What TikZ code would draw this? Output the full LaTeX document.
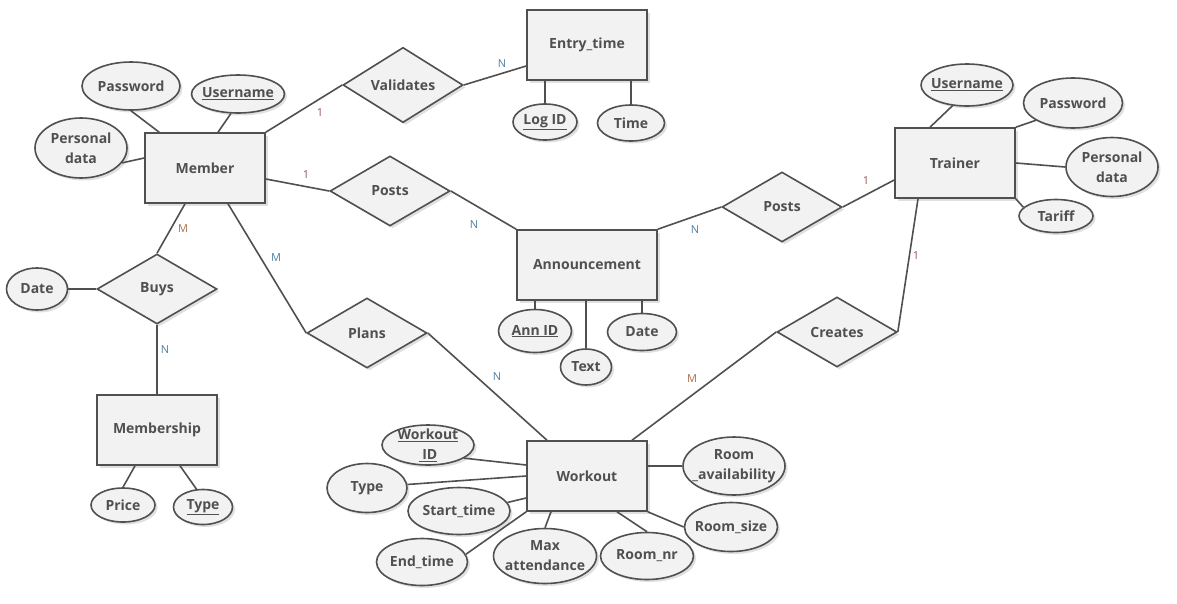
\documentclass[tikz,border=0pt]{standalone}
\usepackage{fontspec}
\setmainfont{Open Sans}
\usetikzlibrary{shapes.geometric,shadows}

\definecolor{ink}{HTML}{505050}
\definecolor{boxfill}{HTML}{F2F2F2}
\definecolor{one}{HTML}{9A5555}
\definecolor{many}{HTML}{4F7FA3}
\definecolor{mcol}{HTML}{A8704A}

\tikzset{
 base/.style={draw=ink,line width=1.6pt,fill=boxfill,inner sep=0pt,text=ink,align=center,
  font=\bfseries\fontsize{14}{20}\selectfont,
  drop shadow={shadow xshift=2.5pt,shadow yshift=-2.5pt,opacity=0.12,fill=black}},
 ent/.style={base,rectangle,minimum width=120pt,minimum height=70pt},
 rel/.style={base,diamond,minimum width=120pt,minimum height=70pt},
 att/.style={base,ellipse,inner xsep=-25pt,inner ysep=-12pt},
 link/.style={draw=ink,line width=1.6pt},
 card/.style={font=\fontsize{11}{12}\selectfont,inner sep=0pt}
}

\begin{document}
\begin{tikzpicture}[x=1pt,y=-1pt]
 \useasboundingbox[fill=white] (0,0) rectangle (1177,603);

 \node[ent] (member) at (205,168) {Member};
 \node[ent] (entry) at (587,45) {Entry\_time};
 \node[ent] (trainer) at (955,163) {Trainer};
 \node[ent,minimum width=140pt] (ann) at (587,265) {Announcement};
 \node[ent] (membership) at (157,430) {Membership};
 \node[ent] (workout) at (587,476) {Workout};

 \node[rel] (validates) at (403,85) {Validates};
 \node[rel] (postsm) at (390,191) {Posts};
 \node[rel] (postst) at (782,207) {Posts};
 \node[rel] (buys) at (157,289) {Buys};
 \node[rel] (plans) at (367,333) {Plans};
 \node[rel] (creates) at (837,332) {Creates};

 \node[att,minimum width=98pt,minimum height=48pt] (mpass) at (131,86) {Password};
 \node[att,minimum width=93pt,minimum height=38pt] (muser) at (238,94) {\underline{Username}};
 \node[att,minimum width=92pt,minimum height=60pt] (mdata) at (81,148) {Personal\\data};
 \node[att,minimum width=64pt,minimum height=36pt] (logid) at (545,122) {\underline{Log ID}};
 \node[att,minimum width=67pt,minimum height=36pt] (etime) at (631,123) {Time};
 \node[att,minimum width=92pt,minimum height=42pt] (tuser) at (967,85) {\underline{Username}};
 \node[att,minimum width=99pt,minimum height=50pt] (tpass) at (1073,103) {Password};
 \node[att,minimum width=92pt,minimum height=59pt] (tdata) at (1112,167) {Personal\\data};
 \node[att,minimum width=74pt,minimum height=33pt] (tariff) at (1056,216) {Tariff};
 \node[att,minimum width=73pt,minimum height=43pt] (annid) at (535,331) {\underline{Ann ID}};
 \node[att,minimum width=51pt,minimum height=36pt] (atext) at (586,367) {Text};
 \node[att,minimum width=69pt,minimum height=37pt] (adate) at (642,332) {Date};
 \node[att,minimum width=61pt,minimum height=42pt] (bdate) at (37,289) {Date};
 \node[att,minimum width=64pt,minimum height=34pt] (price) at (123,505) {Price};
 \node[att,minimum width=59pt,minimum height=35pt] (mtype) at (203,507) {\underline{Type}};
 \node[att,minimum width=92pt,minimum height=40pt] (wid) at (428,445) {\underline{Workout}\\\underline{\ ID}};
 \node[att,minimum width=80pt,minimum height=49pt] (wtype) at (367,488) {Type};
 \node[att,minimum width=102pt,minimum height=47pt] (wstart) at (459,511) {Start\_time};
 \node[att,minimum width=91pt,minimum height=47pt] (wend) at (422,562) {End\_time};
 \node[att,minimum width=103pt,minimum height=55pt] (wmax) at (545,556) {Max\\attendance};
 \node[att,minimum width=93pt,minimum height=47pt] (wnr) at (647,556) {Room\_nr};
 \node[att,minimum width=93pt,minimum height=49pt] (wsize) at (731,527) {Room\_size};
 \node[att,minimum width=102pt,minimum height=58pt] (wavail) at (734,466) {Room\\\_availability};

 \draw[link] (mpass.south) -- ([xshift=15pt]member.north west);
 \draw[link] (muser.250) -- ([xshift=13pt]member.north);
 \draw[link] (mdata.-20) -- ([yshift=10pt]member.west);
 \draw[link] (member.north east) -- (validates.west);
 \draw[link] (validates.east) -- ([yshift=-21pt]entry.west);
 \draw[link] (logid.north |- entry.south) -- (logid.north);
 \draw[link] (etime.north |- entry.south) -- (etime.north);
 \draw[link] ([yshift=-11pt]member.east) -- (postsm.west);
 \draw[link] (postsm.east) -- (ann.north west);
 \draw[link] (ann.north east) -- (postst.west);
 \draw[link] (postst.east) -- ([yshift=-17pt]trainer.west);
 \draw[link] (tuser.235) -- ([xshift=-25pt]trainer.north);
 \draw[link] (trainer.north east) -- (tpass.205);
 \draw[link] (trainer.east) -- (tdata.west);
 \draw[link] (trainer.south east) -- (tariff.165);
 \draw[link] ([xshift=-37pt]trainer.south) -- (creates.east);
 \draw[link] (creates.west) -- ([xshift=45pt]workout.north);
 \draw[link] ([xshift=23pt]member.south) -- (plans.west);
 \draw[link] (plans.east) -- ([xshift=-40pt]workout.north);
 \draw[link] ([xshift=-20pt]member.south) -- (buys.north);
 \draw[link] (buys.west) -- (bdate.east);
 \draw[link] (buys.south) -- (membership.north);
 \draw[link] ([xshift=-22pt]membership.south) -- (price.north);
 \draw[link] ([xshift=23pt]membership.south) -- (mtype.110);
 \draw[link] (annid.north |- ann.south) -- (annid.north);
 \draw[link] (atext.north |- ann.south) -- (atext.north);
 \draw[link] (adate.north |- ann.south) -- (adate.north);
 \draw[link] (wid.-20) -- ([yshift=11pt]workout.west);
 \draw[link] (wtype.5) -- (workout.west);
 \draw[link] (wstart.10) -- ([yshift=-22pt]workout.west);
 \draw[link] (wend.10) -- (workout.south west);
 \draw[link] ([xshift=-36pt]workout.south) -- (wmax.north);
 \draw[link] ([xshift=30pt]workout.south) -- (wnr.north);
 \draw[link] (workout.south east) -- (wsize.west);
 \draw[link] ([yshift=10pt]workout.east) -- (wavail.west);

 \node[card,text=one] (cval) at (320,113) {1};
 \node[card,text=many] (cent) at (502,64) {N};
 \node[card,text=one] (cpm) at (306,175) {1};
 \node[card,text=many] (cpa) at (474,225) {N};
 \node[card,text=many] (cpta) at (695,230) {N};
 \node[card,text=one] (cptt) at (866,181) {1};
 \node[card,text=one] (ccr) at (916,256) {1};
 \node[card,text=mcol] (ccw) at (692,379) {M};
 \node[card,text=many] (cpl) at (276,258) {M};
 \node[card,text=many] (cplw) at (497,377) {N};
 \node[card,text=mcol] (cbu) at (183,229) {M};
 \node[card,text=many] (cbm) at (165,350) {N};
\end{tikzpicture}
\end{document}
